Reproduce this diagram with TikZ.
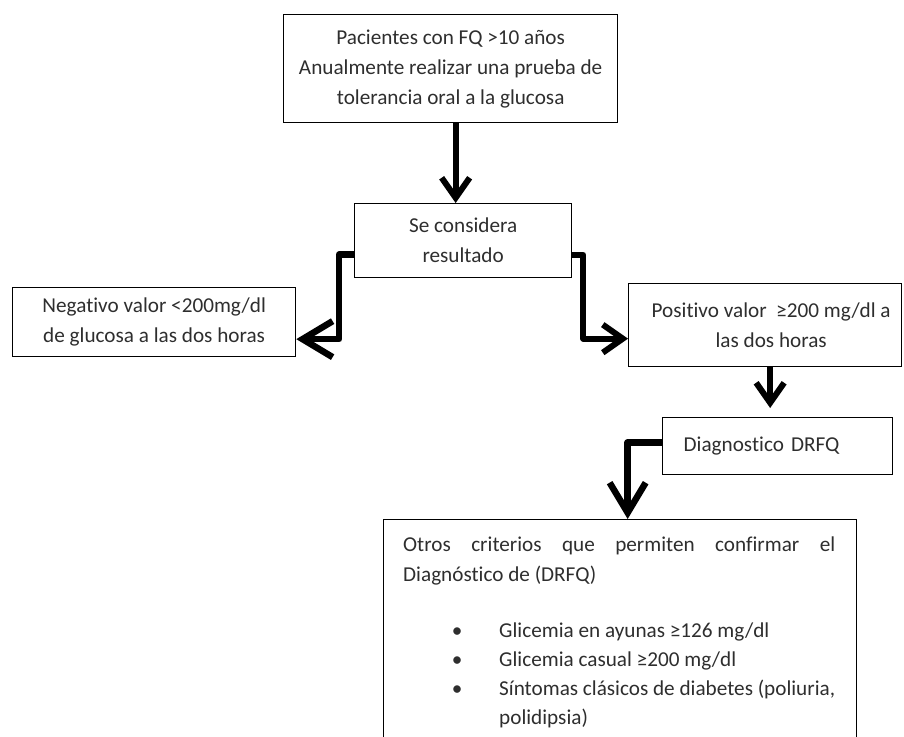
\documentclass[tikz,border=0pt]{standalone}
\usepackage{fontspec}
\setmainfont{Carlito}[Ligatures=NoCommon]
\usetikzlibrary{arrows.meta,calc}
\begin{document}
\begin{tikzpicture}[x=1pt,y=-1pt,
  lbl/.style={font=\fontsize{21.2}{30}\selectfont,text=black!82},
  box/.style={lbl,draw=black,line width=1.3pt,rectangle,inner sep=0pt,anchor=north west},
  flow/.style={line width=6pt,line join=round,
    -{Straight Barb[length=20pt,width=28pt,line width=6pt]}},
  bigflow/.style={line width=6.5pt,line join=round,
    -{Straight Barb[length=30pt,width=36pt,line width=6.5pt]}}]
\useasboundingbox (0,0) rectangle (904,736);
% boxes
\node[box,minimum width=334pt,minimum height=108pt,align=center] (b1) at (283,14)
  {Pacientes con FQ >10 años\\Anualmente realizar una prueba de\\tolerancia oral a la glucosa};
\node[box,minimum width=217pt,minimum height=74pt,align=center] (b2) at (354,203)
  {Se considera\\resultado};
\node[box,minimum width=283pt,minimum height=69pt,align=center] (b3) at (12,287)
  {Negativo valor <200mg/dl\\de glucosa a las dos horas};
\node[box,minimum width=273pt,minimum height=83pt,align=center] (b4) at (628,283)
  {\hspace*{12pt}Positivo valor\ \ ≥200 mg/dl a\\\hspace*{12pt}las dos horas};
\node[box,minimum width=230pt,minimum height=57pt,text width=188pt,inner xsep=21pt,align=left] (b5) at (662,417)
  {Diagnostico DRFQ};
\node[box,minimum width=473pt,minimum height=260pt] (b6) at (383,519) {};
\node[lbl,anchor=north west,inner sep=0pt,text width=432pt,align=justify] (t6) at (403,537)
  {Otros criterios que permiten confirmar el\linebreak Diagnóstico de (DRFQ)\par\vspace{26pt}
   \hspace*{49pt}\makebox[10pt][c]{•}\hspace*{37pt}Glicemia en ayunas ≥126 mg/dl\par\vspace{-1pt}
   \hspace*{49pt}\makebox[10pt][c]{•}\hspace*{37pt}Glicemia casual ≥200 mg/dl\par\vspace{-1pt}
   \hspace*{49pt}\makebox[10pt][c]{•}\hspace*{37pt}Síntomas clásicos de diabetes (poliuria,\par\vspace{-1pt}
   \hspace*{96pt}polidipsia)\par};
% connectors
\draw[flow] ([xshift=5pt]b1.south) -- ($(b1.south |- b2.north)+(5,0)$);
\draw[bigflow] ([yshift=-14pt]b2.west) -- ++(-15,0) |- ([yshift=-17pt]b3.east);
\draw[flow] ([yshift=-14pt]b2.east) -- ++(11,0) |- ([yshift=-13.5pt]b4.west);
\draw[flow] ([xshift=5pt]b4.south) -- ($(b4.south |- b5.north)+(5,-9)$);
\draw[bigflow] ([yshift=3.5pt]b5.west) -| ($(b6.north)+(7.5,0)$);
\end{tikzpicture}
\end{document}
